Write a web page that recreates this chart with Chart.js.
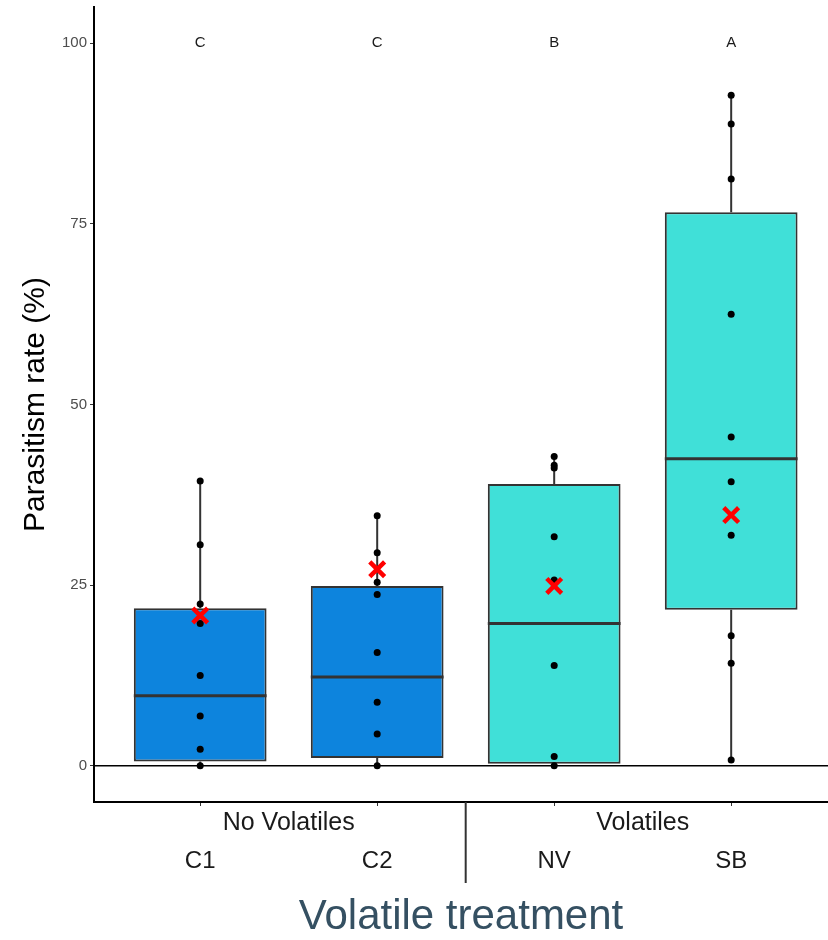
<!DOCTYPE html>
<html>
<head>
<meta charset="utf-8">
<script src="https://cdn.jsdelivr.net/npm/chart.js@4.4.1/dist/chart.umd.min.js"></script>
<style>
  body { margin: 0; background: #fff; overflow: hidden; }
  canvas { display: block; }
</style>
</head>
<body>
<canvas id="boxChart" width="828" height="940"></canvas>
<script>
// ========================================= parasitism box plot

const categories = ['C1', 'C2', 'NV', 'SB'];
const groups = ['No Volatiles', 'Volatiles'];
const letters = ['C', 'C', 'B', 'A'];
const yTicks = [0, 25, 50, 75, 100];

const q1 = [0.6, 1.1, 0.3, 21.6];
const median = [9.7, 12.3, 19.7, 42.5];
const q3 = [21.8, 24.9, 39.0, 76.6];
const whiskerLow = [0, 0, 0, 0.8];
const whiskerHigh = [39.4, 34.6, 42.8, 92.8];
const means = [20.8, 27.2, 24.9, 34.7];

const pointsC1 = [39.4, 30.6, 22.4, 19.7, 12.5, 6.9, 2.3, 0];
const pointsC2 = [34.6, 29.5, 25.4, 23.7, 15.7, 8.8, 4.4, 0];
const pointsNV = [42.8, 41.6, 41.2, 31.7, 25.7, 13.9, 1.3, 0];
const pointsSB = [92.8, 88.8, 81.2, 62.5, 45.5, 39.3, 31.9, 18.0, 14.2, 0.8];

const allPoints = [pointsC1, pointsC2, pointsNV, pointsSB];

Chart.defaults.font.family = '"Liberation Sans", Arial, sans-serif';

// whiskers, medians, zero line, letters, group labels
const boxExtras = {
  id: 'boxExtras',
  beforeDatasetsDraw(chart) {
    const { ctx, chartArea, scales: { y } } = chart;
    const y0 = y.getPixelForValue(0);
    ctx.save();
    ctx.strokeStyle = '#000';
    ctx.lineWidth = 1.5;
    ctx.beginPath();
    ctx.moveTo(chartArea.left, y0);
    ctx.lineTo(chartArea.right, y0);
    ctx.stroke();
    ctx.restore();
  },
  afterDatasetDraw(chart, args) {
    if (args.meta.type !== 'bar') return;
    const { ctx, scales: { y } } = chart;
    ctx.save();
    ctx.strokeStyle = '#333';
    args.meta.data.forEach((bar, i) => {
      ctx.lineWidth = 2;
      ctx.beginPath();
      ctx.moveTo(bar.x, y.getPixelForValue(whiskerLow[i]));
      ctx.lineTo(bar.x, y.getPixelForValue(q1[i]));
      ctx.moveTo(bar.x, y.getPixelForValue(q3[i]));
      ctx.lineTo(bar.x, y.getPixelForValue(whiskerHigh[i]));
      ctx.stroke();
      ctx.lineWidth = 3;
      const ym = y.getPixelForValue(median[i]);
      ctx.beginPath();
      ctx.moveTo(bar.x - bar.width / 2, ym);
      ctx.lineTo(bar.x + bar.width / 2, ym);
      ctx.stroke();
    });
    ctx.restore();
  },
  afterDraw(chart) {
    const { ctx, chartArea, scales: { x, y } } = chart;
    ctx.save();
    ctx.fillStyle = '#1a1a1a';
    ctx.textAlign = 'center';
    ctx.textBaseline = 'middle';
    ctx.font = '15px "Liberation Sans", Arial, sans-serif';
    letters.forEach((l, i) => {
      ctx.fillText(l, x.getPixelForValue(i + 1), y.getPixelForValue(100));
    });
    ctx.font = '25px "Liberation Sans", Arial, sans-serif';
    groups.forEach((g, i) => {
      ctx.fillText(g, x.getPixelForValue(i * 2 + 1.5), chartArea.bottom + 21);
    });
    ctx.strokeStyle = '#333';
    ctx.lineWidth = 2;
    ctx.beginPath();
    ctx.moveTo(x.getPixelForValue(2.5), chartArea.bottom);
    ctx.lineTo(x.getPixelForValue(2.5), chartArea.bottom + 81);
    ctx.stroke();
    ctx.restore();
  }
};

const ctx = document.getElementById('boxChart').getContext('2d');
const boxChart = new Chart(ctx, {
  data: {
    datasets: [
      {
        type: 'scatter',
        label: 'Mean',
        order: 0,
        data: means.map((m, i) => ({ x: i + 1, y: m })),
        pointStyle: 'crossRot',
        pointRadius: 10.5,
        pointBorderWidth: 4.5,
        borderColor: '#ff0000',
        backgroundColor: '#ff0000'
      },
      {
        type: 'scatter',
        label: 'Observations',
        order: 1,
        data: allPoints.flatMap((pts, i) => pts.map(v => ({ x: i + 1, y: v }))),
        pointRadius: 3.5,
        pointBorderWidth: 0,
        backgroundColor: '#000',
        borderColor: '#000'
      },
      {
        type: 'bar',
        label: 'Box',
        order: 2,
        data: categories.map((c, i) => ({ x: i + 1, y: [q1[i], q3[i]] })),
        backgroundColor: ['#0d84dd', '#0d84dd', '#40e0d8', '#40e0d8'],
        borderColor: '#333',
        borderWidth: 2,
        borderSkipped: false,
        barPercentage: 0.75,
        categoryPercentage: 1
      }
    ]
  },
  options: {
    responsive: false,
    animation: false,
    layout: { autoPadding: false, padding: { top: 7, right: 0, left: 0, bottom: 0 } },
    plugins: {
      legend: { display: false },
      tooltip: { enabled: false }
    },
    scales: {
      x: {
        type: 'linear',
        min: 0.4,
        max: 4.547,
        offset: false,
        afterBuildTicks: s => { s.ticks = categories.map((c, i) => ({ value: i + 1 })); },
        afterFit: s => { s.height = 138; s.paddingLeft = 0; s.paddingRight = 0; },
        ticks: {
          callback: v => categories[v - 1],
          color: '#1a1a1a',
          font: { size: 24 },
          padding: 41,
          maxRotation: 0
        },
        grid: { offset: false, drawOnChartArea: false, drawTicks: true, tickLength: 4, color: '#333' },
        border: { display: true, color: '#000', width: 2 },
        title: {
          display: true,
          text: 'Volatile treatment',
          color: '#355062',
          font: { size: 42, lineHeight: 1 },
          padding: { top: 0, bottom: 2 }
        }
      },
      y: {
        min: -5,
        max: 105,
        afterBuildTicks: s => { s.ticks = yTicks.map(v => ({ value: v })); },
        afterFit: s => { s.width = 94; s.paddingTop = 0; s.paddingBottom = 0; },
        ticks: {
          color: '#4d4d4d',
          font: { size: 15 },
          padding: 3
        },
        grid: { drawOnChartArea: false, drawTicks: true, tickLength: 4, color: '#333' },
        border: { display: true, color: '#000', width: 2 },
        title: {
          display: true,
          text: 'Parasitism rate (%)',
          color: '#000',
          font: { size: 30, lineHeight: 1 },
          padding: { top: 21, bottom: 0 }
        }
      }
    }
  },
  plugins: [boxExtras]
});
</script>
</body>
</html>
